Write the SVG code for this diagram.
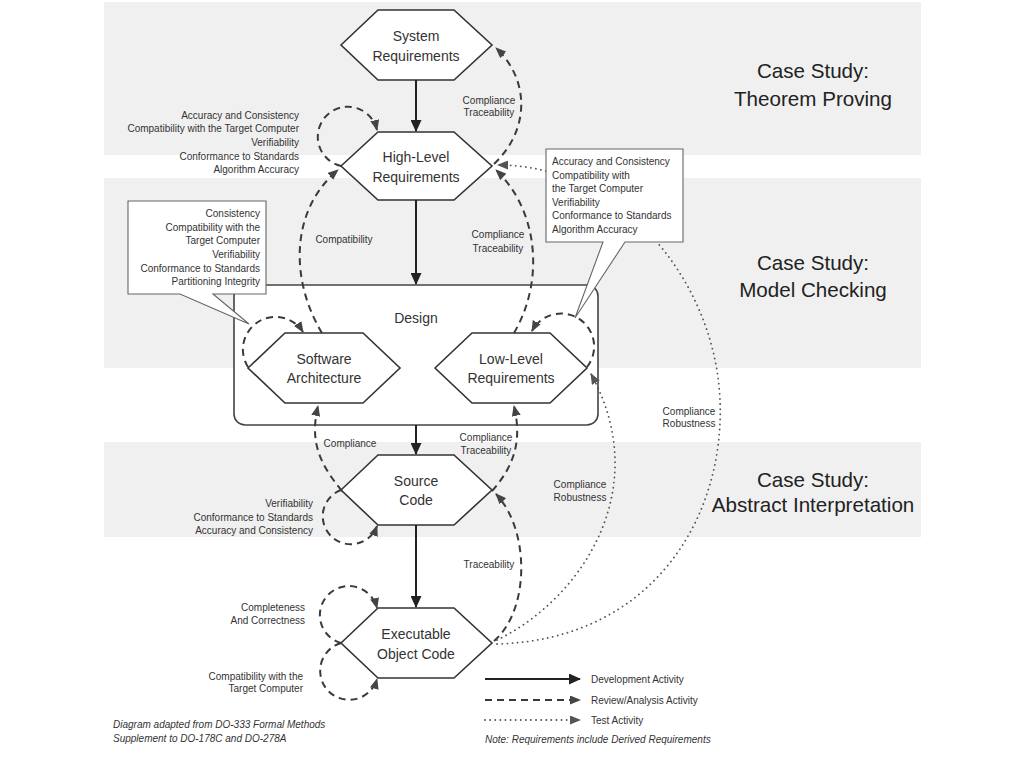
<svg xmlns="http://www.w3.org/2000/svg" width="1024" height="768" viewBox="0 0 1024 768">
<defs>
<style>
.band{fill:#f0f0f0}
.hex{fill:#fff;stroke:#333;stroke-width:1.6}
.nt{font-family:"Liberation Sans",Arial,sans-serif;font-size:14px;fill:#333;text-anchor:middle}
.cs{font-family:"Liberation Sans",Arial,sans-serif;font-size:20.6px;fill:#222;text-anchor:middle}
.lb{font-family:"Liberation Sans",Arial,sans-serif;font-size:10px;fill:#333}
.r{text-anchor:end}
.m{text-anchor:middle}
.it{font-style:italic}
.dev{fill:none;stroke:#222;stroke-width:2}
.rev{fill:none;stroke:#3a3a3a;stroke-width:2;stroke-dasharray:7 5}
.tst{fill:none;stroke:#555;stroke-width:1.8;stroke-dasharray:0.1 5;stroke-linecap:round}
.call{fill:#fff;stroke:#666;stroke-width:1.1}
</style>
<marker id="ahs" markerWidth="12" markerHeight="11" refX="11" refY="5.5" orient="auto" markerUnits="userSpaceOnUse"><path d="M0,0 L12,5.5 L0,11 z" fill="#222"/></marker>
<marker id="ahd" markerWidth="11" markerHeight="9" refX="10" refY="4.5" orient="auto" markerUnits="userSpaceOnUse"><path d="M0,0 L11,4.5 L0,9 z" fill="#444"/></marker>
<marker id="aht" markerWidth="11" markerHeight="9" refX="10" refY="4.5" orient="auto" markerUnits="userSpaceOnUse"><path d="M0,0 L11,4.5 L0,9 z" fill="#555"/></marker>
</defs>
<rect width="1024" height="768" fill="#fff"/>
<g id="bands">
<rect class="band" x="104" y="2" width="817" height="153"/>
<rect class="band" x="104" y="178" width="817" height="190"/>
<rect class="band" x="104" y="442" width="817" height="95"/>
</g>
<g id="case-studies">
<text class="cs" x="813" y="78">Case Study:</text>
<text class="cs" x="813" y="106">Theorem Proving</text>
<text class="cs" x="813" y="270">Case Study:</text>
<text class="cs" x="813" y="297">Model Checking</text>
<text class="cs" x="813" y="487">Case Study:</text>
<text class="cs" x="813" y="512">Abstract Interpretation</text>
</g>
<g id="design">
<rect x="234" y="285" width="364" height="140" rx="11" fill="#fff" stroke="#444" stroke-width="1.6"/>
<text class="nt" x="416" y="323">Design</text>
</g>
<g id="system-requirements">
<polygon class="hex" points="341,45 378,10 454,10 492,45 454,80 378,80"/>
<text class="nt" x="416" y="40.5">System</text>
<text class="nt" x="416" y="60.5">Requirements</text>
</g>
<g id="high-level-requirements">
<polygon class="hex" points="341,166 378,132 454,132 492,166 454,200 378,200"/>
<text class="nt" x="416" y="162">High-Level</text>
<text class="nt" x="416" y="182">Requirements</text>
</g>
<g id="software-architecture">
<polygon class="hex" points="248,368 285,333 363,333 400,368 363,403 285,403"/>
<text class="nt" x="324" y="364">Software</text>
<text class="nt" x="324" y="383">Architecture</text>
</g>
<g id="low-level-requirements">
<polygon class="hex" points="435,368 472,333 550,333 587,368 550,403 472,403"/>
<text class="nt" x="511" y="364">Low-Level</text>
<text class="nt" x="511" y="383">Requirements</text>
</g>
<g id="source-code">
<polygon class="hex" points="341,490 378,455 454,455 492,490 454,525 378,525"/>
<text class="nt" x="416" y="486">Source</text>
<text class="nt" x="416" y="505">Code</text>
</g>
<g id="executable-object-code">
<polygon class="hex" points="341,643 378,608 454,608 492,643 454,678 378,678"/>
<text class="nt" x="416" y="639">Executable</text>
<text class="nt" x="416" y="659">Object Code</text>
</g>
<g id="connectors">
<path class="dev" d="M416,80 L416,131" marker-end="url(#ahs)"/>
<path class="dev" d="M416,200 L416,284" marker-end="url(#ahs)"/>
<path class="dev" d="M416,425 L416,454" marker-end="url(#ahs)"/>
<path class="dev" d="M416,525 L416,607" marker-end="url(#ahs)"/>
<path class="rev" d="M494,164 C530,130 530,80 496,48" marker-end="url(#ahd)"/>
<path class="rev" d="M341,166 A30,30 0 1 1 377,130" marker-end="url(#ahd)"/>
<path class="rev" d="M322,333 C290,280 290,210 338,170" marker-end="url(#ahd)"/>
<path class="rev" d="M514,333 C545,280 538,210 496,170" marker-end="url(#ahd)"/>
<path class="rev" d="M248,367 A31,31 0 1 1 303,332" marker-end="url(#ahd)"/>
<path class="rev" d="M587,367 A33,33 0 1 0 532,331" marker-end="url(#ahd)"/>
<path class="rev" d="M342,491 C318,462 310,440 318,406" marker-end="url(#ahd)"/>
<path class="rev" d="M492,491 C515,465 522,440 514,406" marker-end="url(#ahd)"/>
<path class="rev" d="M341,490 A28,28 0 1 0 377,526" marker-end="url(#ahd)"/>
<path class="rev" d="M494,641 C530,610 530,530 496,494" marker-end="url(#ahd)"/>
<path class="rev" d="M341,643 A29,29 0 1 1 377,608" marker-end="url(#ahd)"/>
<path class="rev" d="M341,643 A29,29 0 1 0 377,679" marker-end="url(#ahd)"/>
<path class="tst" d="M497,640 C580,600 655,490 591,374" marker-end="url(#aht)"/>
<path class="tst" d="M497,644 C650,640 725,520 720,400 C715,280 620,165 498,165" marker-end="url(#aht)"/>
</g>
<g id="connector-labels">
<text class="lb m" x="489" y="104">Compliance</text>
<text class="lb m" x="489" y="116">Traceability</text>
<text class="lb r" x="299" y="118.5">Accuracy and Consistency</text>
<text class="lb r" x="299" y="131.5">Compatibility with the Target Computer</text>
<text class="lb r" x="299" y="145.5">Verifiability</text>
<text class="lb r" x="299" y="159.5">Conformance to Standards</text>
<text class="lb r" x="299" y="172.5">Algorithm Accuracy</text>
<text class="lb m" x="344" y="242.5">Compatibility</text>
<text class="lb m" x="498" y="237.5">Compliance</text>
<text class="lb m" x="498" y="251.5">Traceability</text>
<text class="lb m" x="350" y="446.5">Compliance</text>
<text class="lb m" x="486" y="441">Compliance</text>
<text class="lb m" x="486" y="454">Traceability</text>
<text class="lb r" x="313" y="506.5">Verifiability</text>
<text class="lb r" x="313" y="520.5">Conformance to Standards</text>
<text class="lb r" x="313" y="533.5">Accuracy and Consistency</text>
<text class="lb m" x="580" y="487.5">Compliance</text>
<text class="lb m" x="580" y="500.5">Robustness</text>
<text class="lb m" x="689" y="414.5">Compliance</text>
<text class="lb m" x="689" y="426.5">Robustness</text>
<text class="lb m" x="489" y="567.5">Traceability</text>
<text class="lb r" x="305" y="610.5">Completeness</text>
<text class="lb r" x="305" y="623.5">And Correctness</text>
<text class="lb r" x="303" y="679.5">Compatibility with the</text>
<text class="lb r" x="303" y="691.5">Target Computer</text>
</g>
<g id="callout-software-architecture">
<path class="call" d="M128,201 L266,201 L266,294 L213,294 L249,324 L180,294 L128,294 Z"/>
<text class="lb r" x="260" y="216.5">Consistency</text>
<text class="lb r" x="260" y="230.5">Compatibility with the</text>
<text class="lb r" x="260" y="243.5">Target Computer</text>
<text class="lb r" x="260" y="257.5">Verifiability</text>
<text class="lb r" x="260" y="271.5">Conformance to Standards</text>
<text class="lb r" x="260" y="284.5">Partitioning Integrity</text>
</g>
<g id="callout-low-level-requirements">
<path class="call" d="M546,149 L683,149 L683,242 L625,242 L575,318 L603,242 L546,242 Z"/>
<text class="lb" x="552" y="164.5">Accuracy and Consistency</text>
<text class="lb" x="552" y="178.5">Compatibility with</text>
<text class="lb" x="552" y="191.5">the Target Computer</text>
<text class="lb" x="552" y="205.5">Verifiability</text>
<text class="lb" x="552" y="218.5">Conformance to Standards</text>
<text class="lb" x="552" y="232.5">Algorithm Accuracy</text>
</g>
<g id="legend">
<path class="dev" d="M485,679 L580,679" marker-end="url(#ahs)"/>
<path class="rev" d="M485,700 L580,700" marker-end="url(#ahd)"/>
<path class="tst" d="M485,720 L580,720" marker-end="url(#aht)"/>
<text class="lb" x="591" y="682.5">Development Activity</text>
<text class="lb" x="591" y="703.5">Review/Analysis Activity</text>
<text class="lb" x="591" y="723.5">Test Activity</text>
<text class="lb it" x="485" y="742.5">Note: Requirements include Derived Requirements</text>
</g>
<g id="source-note">
<text class="lb it" x="113" y="727.5">Diagram adapted from DO-333 Formal Methods</text>
<text class="lb it" x="113" y="741.5">Supplement to DO-178C and DO-278A</text>
</g>
</svg>
